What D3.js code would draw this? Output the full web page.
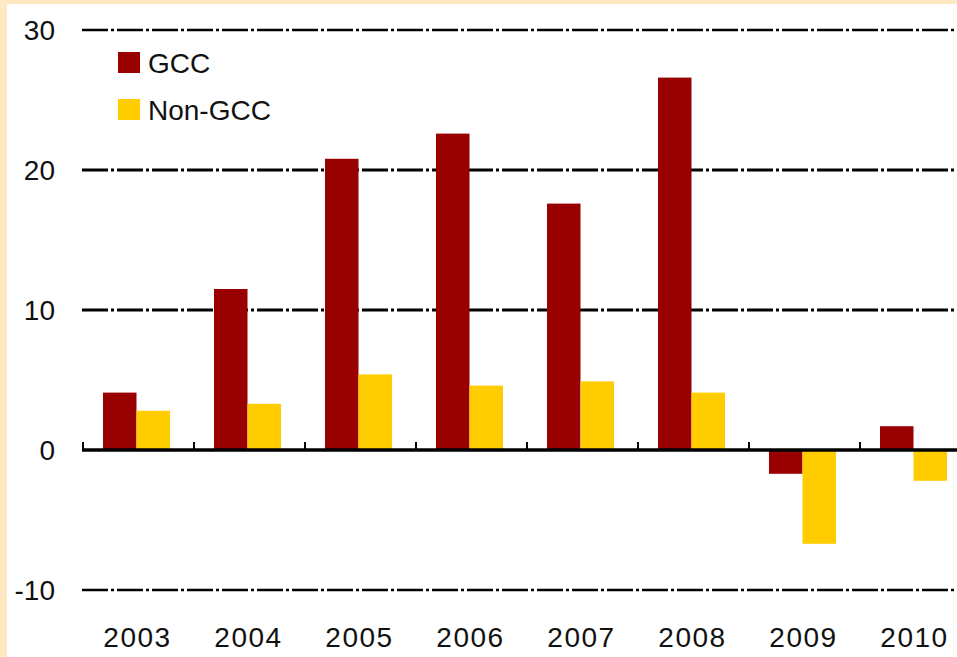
<!DOCTYPE html>
<html>
<head>
<meta charset="utf-8">
<script src="https://cdn.jsdelivr.net/npm/d3@7"></script>
<style>
  html, body { margin: 0; padding: 0; background: #fff; }
  svg { display: block; }
</style>
</head>
<body>
<div id="viz"></div>
<script>
"use strict";
(function(){
    // data
    const years = ["2003", "2004", "2005", "2006", "2007", "2008", "2009", "2010"]
    const seriesNames = ["GCC", "Non-GCC"]
    const gccValues = [4.1, 11.5, 20.8, 22.6, 17.6, 26.6, -1.7, 1.7]
    const nonGccValues = [2.8, 3.3, 5.4, 4.6, 4.9, 4.1, -6.7, -2.2]
    const yTicks = [-10, 0, 10, 20, 30]

    const measurements = {
        width: 957,
        height: 657
    }
    const colors = { "GCC": "#990000", "Non-GCC": "#FFCC00" }
    const font = "'Liberation Sans', Arial, sans-serif"

    const svgContainer = d3.select('#viz').append("svg")
        .attr('width', measurements.width)
        .attr('height', measurements.height)

    // beige frame strips (left and top)
    svgContainer.append('rect')
        .attr('x', 0).attr('y', 0)
        .attr('width', measurements.width).attr('height', 4)
        .attr('fill', '#FFE9C2')
    svgContainer.append('rect')
        .attr('x', 0).attr('y', 0)
        .attr('width', 7).attr('height', measurements.height)
        .attr('fill', '#FFE9C2')

    let scaleX = d3.scaleBand()
        .domain(years)
        .range([82, 82 + 111 * years.length])
        .padding(0)

    let scaleInner = d3.scaleBand()
        .domain(seriesNames)
        .range([21, scaleX.bandwidth() - 23])
        .padding(0)

    let scaleY = d3.scaleLinear()
        .domain([-10, 30])
        .range([590, 30])

    // dash-dot gridlines
    svgContainer.append('g')
        .selectAll('line')
        .data(yTicks.filter(t => t !== 0))
        .enter()
        .append('line')
            .attr('x1', 82)
            .attr('x2', measurements.width)
            .attr('y1', d => scaleY(d))
            .attr('y2', d => scaleY(d))
            .attr('stroke', '#000')
            .attr('stroke-width', d => (d === 30 || d === -10) ? 2.5 : 3)
            .attr('stroke-dasharray', '26,3,3,3')

    // y labels
    svgContainer.append('g')
        .selectAll('text')
        .data(yTicks)
        .enter()
        .append('text')
            .attr('x', 55)
            .attr('y', d => scaleY(d))
            .attr('dy', '0.36em')
            .attr('text-anchor', 'end')
            .attr('font-family', font)
            .attr('font-size', 28)
            .attr('fill', '#111')
            .text(d => d)

    // bars
    const rows = years.map((y, i) => ({ year: y, "GCC": gccValues[i], "Non-GCC": nonGccValues[i] }))
    const groups = svgContainer.append('g')
        .selectAll('g')
        .data(rows)
        .enter()
        .append('g')
            .attr('transform', d => 'translate(' + scaleX(d.year) + ',0)')

    groups.selectAll('rect')
        .data(d => seriesNames.map(s => ({ name: s, value: d[s] })))
        .enter()
        .append('rect')
            .attr('x', d => scaleInner(d.name))
            .attr('width', scaleInner.bandwidth())
            .attr('y', d => scaleY(Math.max(0, d.value)))
            .attr('height', d => Math.abs(scaleY(d.value) - scaleY(0)))
            .attr('fill', d => colors[d.name])

    // zero axis with tick marks
    svgContainer.append('line')
        .attr('x1', 82)
        .attr('x2', measurements.width)
        .attr('y1', scaleY(0))
        .attr('y2', scaleY(0))
        .attr('stroke', '#000')
        .attr('stroke-width', 3.5)

    svgContainer.append('g')
        .selectAll('line')
        .data(years)
        .enter()
        .append('line')
            .attr('x1', d => scaleX(d) + 1)
            .attr('x2', d => scaleX(d) + 1)
            .attr('y1', scaleY(0) - 8)
            .attr('y2', scaleY(0))
            .attr('stroke', '#000')
            .attr('stroke-width', 2)

    // x labels
    svgContainer.append('g')
        .selectAll('text')
        .data(years)
        .enter()
        .append('text')
            .attr('x', d => scaleX(d) + scaleX.bandwidth() / 2)
            .attr('y', 647)
            .attr('text-anchor', 'middle')
            .attr('font-family', font)
            .attr('font-size', 28)
            .attr('letter-spacing', 1.5)
            .attr('fill', '#111')
            .text(d => d)

    // legend
    const legend = svgContainer.append('g')
        .selectAll('g')
        .data(seriesNames)
        .enter()
        .append('g')
            .attr('transform', (d, i) => 'translate(118,' + (52 + i * 47) + ')')

    legend.append('rect')
        .attr('width', 22)
        .attr('height', 21)
        .attr('fill', d => colors[d])

    legend.append('text')
        .attr('x', 30)
        .attr('y', 21)
        .attr('font-family', font)
        .attr('font-size', 28)
        .attr('fill', '#111')
        .text(d => d)
})()
</script>
</body>
</html>
